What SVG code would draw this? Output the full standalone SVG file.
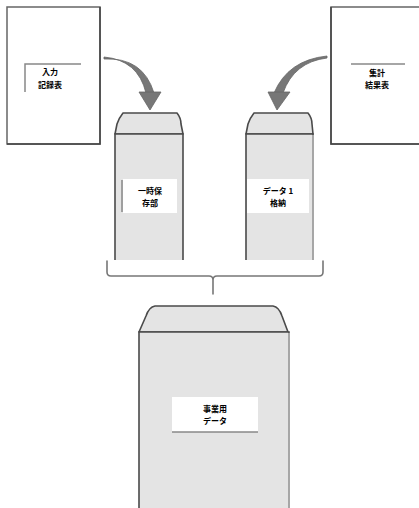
<svg xmlns="http://www.w3.org/2000/svg" width="419" height="508" viewBox="0 0 419 508">
  <style>
    .page { fill: #ffffff; stroke: #666666; stroke-width: 1.5; }
    .shade { fill: none; stroke: #444444; stroke-width: 1.5; }
    .rule { fill: none; stroke: #888888; stroke-width: 1.5; }
    .body { fill: #e4e4e4; stroke: #4a4a4a; stroke-width: 1.6; }
    .flap { fill: #e4e4e4; stroke: #4a4a4a; stroke-width: 1.6; stroke-linejoin: round; }
    .label { fill: #ffffff; }
    .txt { font-family: "Noto Sans CJK JP", "Noto Sans", sans-serif; font-size: 8px; font-weight: bold; fill: #000000; text-anchor: middle; }
    .arrow { fill: #777777; stroke: #666666; stroke-width: 0.8; stroke-linejoin: round; }
    .brace { fill: none; stroke: #777777; stroke-width: 1.6; stroke-linecap: round; }
  </style>

  <!-- source sheet, left -->
  <g id="sheet-left">
    <rect class="page" x="7" y="7" width="93" height="137"/>
    <path class="shade" d="M100,7 V144 H7"/>
    <path class="rule" d="M25,92 V64 H81"/>
    <text class="txt" x="50" y="75">入力</text>
    <text class="txt" x="50" y="88">記録表</text>
  </g>

  <!-- source sheet, right -->
  <g id="sheet-right">
    <rect class="page" x="331" y="7" width="94" height="137"/>
    <path class="shade" d="M331,7 V144 H419"/>
    <path class="rule" d="M351,64 H405"/>
    <text class="txt" x="377" y="76">集計</text>
    <text class="txt" x="377" y="88">結果表</text>
  </g>

  <!-- left container -->
  <g id="box-left">
    <path class="flap" d="M115,134 L117,124 Q119,118 123,113 L177,113 Q181,118 181,124 L183,134 Z"/>
    <path class="body" d="M115,260 V134 H183 V260"/>
    <rect class="label" x="123" y="179" width="54" height="34"/>
    <path class="rule" d="M122,180 V212"/>
    <text class="txt" x="150" y="194">一時保</text>
    <text class="txt" x="150" y="206">存部</text>
  </g>

  <!-- right container -->
  <g id="box-right">
    <path class="flap" d="M246,134 L248,124 Q250,118 254,113 L308,113 Q312,118 312,124 L313,134 Z"/>
    <path class="body" d="M246,260 V134 H313 V260"/>
    <path d="M313,135 V260" stroke="#bbbbbb" stroke-width="1.5"/>
    <rect class="label" x="247" y="179" width="62" height="34"/>
    <text class="txt" x="278" y="194">データ 1</text>
    <text class="txt" x="278" y="206">格納</text>
  </g>

  <!-- main container -->
  <g id="box-main">
    <path class="flap" d="M139,332 L146,316 Q149,307 155,306 L273,306 Q279,307 282,316 L288,332 Z"/>
    <path class="body" d="M139,512 V332 H289 V512"/>
    <path d="M289,333 V512" stroke="#bbbbbb" stroke-width="1.5"/>
    <rect class="label" x="172" y="397" width="86" height="35"/>
    <path class="rule" d="M172,432 H258" stroke="#666666"/>
    <text class="txt" x="215" y="412">事業用</text>
    <text class="txt" x="215" y="424">データ</text>
  </g>

  <!-- connectors -->
  <g id="connectors">
    <path class="arrow" d="M104,57 Q138,60 146,93 L154,93 Q143,57 104,59 Z"/>
    <path class="arrow" d="M139,92 L161,92 L150,110 Z"/>
    <path class="arrow" d="M327,56 Q288,60 274,93 L283,93 Q294,62 327,58 Z"/>
    <path class="arrow" d="M268,92 L290,92 L277,110 Z"/>
    <path class="brace" d="M107,261 V272 Q107,276 111,276 H209 Q213,276 213,280 V294 M213,280 Q213,276 217,276 H319 Q323,276 323,272 V261"/>
  </g>
</svg>
